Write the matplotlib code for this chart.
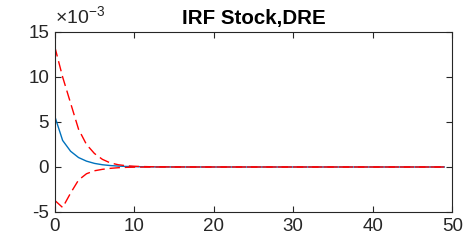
import numpy as np
import matplotlib
matplotlib.use("Agg")
import matplotlib.pyplot as plt
from matplotlib.ticker import FuncFormatter

plt.rcParams["font.family"] = ["Liberation Sans", "DejaVu Sans"]
plt.rcParams["mathtext.fontset"] = "custom"
plt.rcParams["mathtext.rm"] = "Liberation Sans"

# impulse response values, in units of 1e-3
irf = [5.67, 2.95, 1.75, 1.05, 0.65, 0.40, 0.25, 0.16, 0.10, 0.06,
       0.04, 0.025, 0.015, 0.01, 0.006, 0.004, 0.002, 0.001, 0.0, 0.0,
       0.0, 0.0, 0.0, 0.0, 0.0, 0.0, 0.0, 0.0, 0.0, 0.0,
       0.0, 0.0, 0.0, 0.0, 0.0, 0.0, 0.0, 0.0, 0.0, 0.0,
       0.0, 0.0, 0.0, 0.0, 0.0, 0.0, 0.0, 0.0, 0.0, 0.0]
upper = [13.4, 10.0, 7.1, 4.2, 2.5, 1.5, 0.85, 0.45, 0.25, 0.14,
         0.08, 0.05, 0.03, 0.02, 0.01, 0.006, 0.004, 0.002, 0.001, 0.0,
         0.0, 0.0, 0.0, 0.0, 0.0, 0.0, 0.0, 0.0, 0.0, 0.0,
         0.0, 0.0, 0.0, 0.0, 0.0, 0.0, 0.0, 0.0, 0.0, 0.0,
         0.0, 0.0, 0.0, 0.0, 0.0, 0.0, 0.0, 0.0, 0.0, 0.0]
lower = [-3.7, -4.5, -2.9, -1.45, -0.75, -0.42, -0.26, -0.15, -0.08, -0.04,
         -0.02, -0.01, -0.005, 0.0, 0.0, 0.0, 0.0, 0.0, 0.0, 0.0,
         0.0, 0.0, 0.0, 0.0, 0.0, 0.0, 0.0, 0.0, 0.0, 0.0,
         0.0, 0.0, 0.0, 0.0, 0.0, 0.0, 0.0, 0.0, 0.0, 0.0,
         0.0, 0.0, 0.0, 0.0, 0.0, 0.0, 0.0, 0.0, 0.0, 0.0]

x = np.arange(len(irf))

fig = plt.figure(figsize=(4.73, 2.42), dpi=100)
ax = fig.add_axes([0.1156, 0.124, 0.8406, 0.7438])

ax.plot(x, np.array(irf) * 1e-3, color="#0072BD", lw=1.0)
ax.plot(x, np.array(upper) * 1e-3, "r--", lw=1.0, dashes=(7.5, 3.5))
ax.plot(x, np.array(lower) * 1e-3, "r--", lw=1.0, dashes=(7.5, 3.5))

ax.set_xlim(0, 50)
ax.set_ylim(-0.005, 0.015)
ax.set_xticks([0, 10, 20, 30, 40, 50])
ax.set_yticks([-0.005, 0, 0.005, 0.01, 0.015])
ax.yaxis.set_major_formatter(FuncFormatter(lambda v, p: "%g" % round(v * 1e3, 6)))

ax.tick_params(direction="in", length=4, width=0.8, labelsize=13.5,
               top=True, right=True, colors="#262626", pad=4)
for s in ax.spines.values():
    s.set_linewidth(0.8)
    s.set_color("#262626")

ax.text(0.0, 1.02, r"$\times10^{-3}$", transform=ax.transAxes,
        fontsize=14, color="#262626", ha="left", va="bottom")

ax.set_title("IRF Stock,DRE", fontsize=14.8, fontweight="bold", pad=6)

fig.savefig("out.png", dpi=100)
